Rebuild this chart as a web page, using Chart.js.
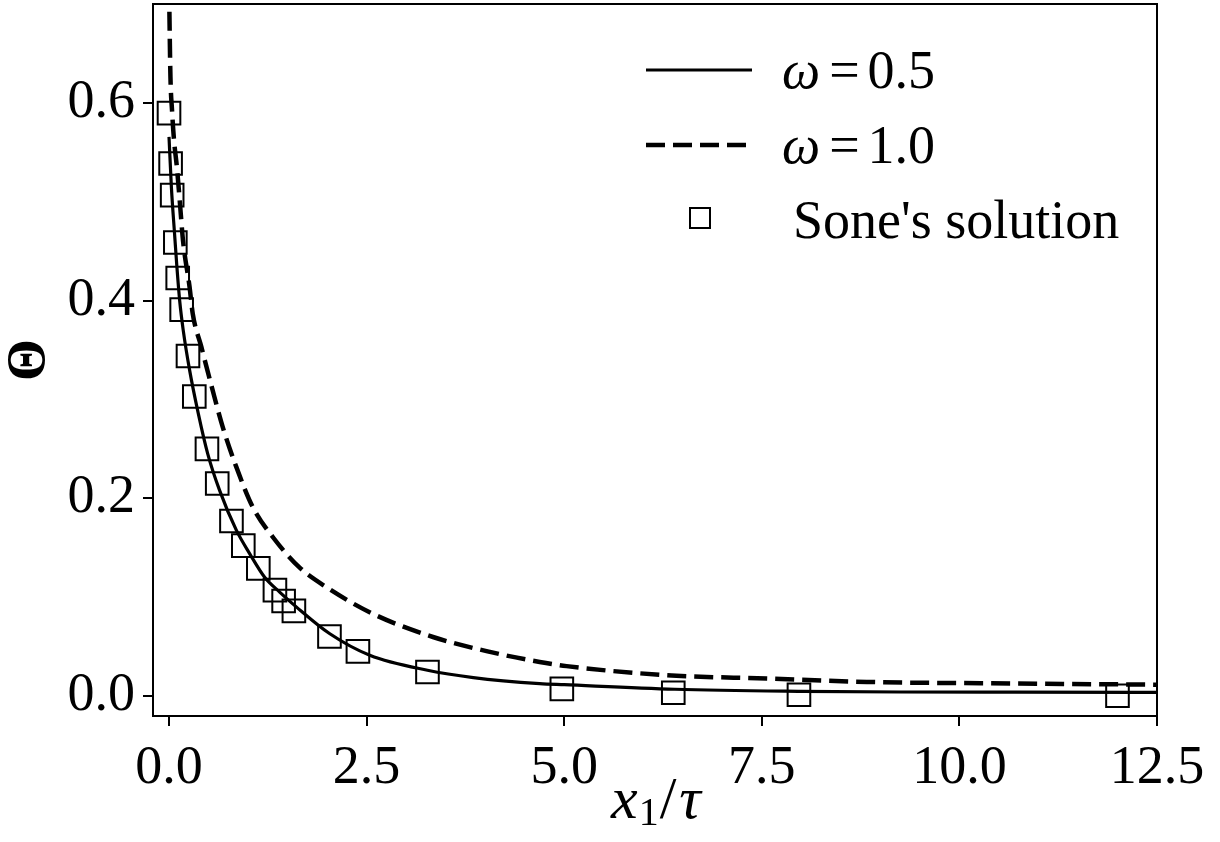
<!DOCTYPE html>
<html>
<head>
<meta charset="utf-8">
<script src="https://cdn.jsdelivr.net/npm/chart.js@4/dist/chart.umd.min.js"></script>
<style>
  html, body { margin: 0; padding: 0; background: #fff; }
  #wrap { width: 1220px; height: 842px; }
</style>
</head>
<body>
<div id="wrap"><canvas id="thetaChart" width="1220" height="842"></canvas></div>
<script>
// values
const soneX = [0.0, 0.02, 0.04, 0.08, 0.11, 0.16, 0.24, 0.32, 0.48, 0.61, 0.79, 0.94, 1.13, 1.34, 1.45, 1.58, 2.03, 2.39, 3.27, 4.97, 6.38, 7.97, 12.0];
const soneY = [0.590, 0.539, 0.507, 0.459, 0.423, 0.391, 0.344, 0.303, 0.250, 0.215, 0.177, 0.152, 0.129, 0.107, 0.096, 0.086, 0.060, 0.045, 0.024, 0.007, 0.003, 0.001, 0.000];

const w05X = [0.0, 0.03, 0.07, 0.10, 0.135, 0.18, 0.26, 0.37, 0.49, 0.64, 0.85, 1.02, 1.21, 1.40, 1.61, 2.03, 2.54, 3.27, 3.85, 4.69, 5.0, 6.4, 8.0, 9.25, 10.7, 12.5];
const w05Y = [0.566, 0.515, 0.468, 0.434, 0.400, 0.370, 0.330, 0.286, 0.245, 0.208, 0.168, 0.144, 0.120, 0.105, 0.090, 0.063, 0.041, 0.0258, 0.0184, 0.0123, 0.0112, 0.0066, 0.0045, 0.0038, 0.0036, 0.0035];

const w10X = [0.0, 0.018, 0.038, 0.063, 0.10, 0.135, 0.177, 0.26, 0.30, 0.41, 0.54, 0.68, 0.85, 1.06, 1.32, 1.65, 1.99, 2.58, 3.34, 4.06, 4.69, 5.03, 6.3, 7.56, 8.83, 10.73, 12.5];
const w10Y = [0.72, 0.627, 0.593, 0.563, 0.535, 0.502, 0.461, 0.414, 0.387, 0.353, 0.313, 0.272, 0.232, 0.191, 0.160, 0.130, 0.110, 0.083, 0.0595, 0.0444, 0.0342, 0.030, 0.0208, 0.0174, 0.014, 0.0124, 0.0112];

const xTicks = [0.0, 2.5, 5.0, 7.5, 10.0, 12.5];
const yTicks = [0.0, 0.2, 0.4, 0.6];

const serif = "'Liberation Serif', 'Times New Roman', serif";
const FS = 54;
const toPoints = (xs, ys) => xs.map((x, i) => ({ x: x, y: ys[i] }));

// draws pieces of text one after another (for the math-style labels)
function drawRuns(ctx, x, y, runs) {
    runs.forEach(r => {
        ctx.font = r.font;
        x += (r.dx || 0);
        ctx.fillText(r.text, x, y + (r.dy || 0));
        x += ctx.measureText(r.text).width;
    });
}

const decorPlugin = {
    id: 'decor',
    afterDraw(chart) {
        const { ctx, chartArea: a } = chart;
        const ds = chart.data.datasets;
        ctx.save();
        ctx.strokeStyle = '#000';
        ctx.fillStyle = '#000';
        ctx.lineWidth = 2;
        ctx.strokeRect(a.left, a.top, a.right - a.left, a.bottom - a.top);

        // legend
        ctx.textBaseline = 'alphabetic';
        ctx.textAlign = 'left';
        const rows = [
            { ds: ds[0], y: 70, base: 88 },
            { ds: ds[1], y: 145, base: 163 },
            { ds: ds[2], y: 218, base: 238 }
        ];
        rows.forEach(row => {
            const d = row.ds;
            ctx.save();
            if (d.showLine === false) {
                ctx.lineWidth = 2;
                ctx.strokeRect(690, row.y - 10, 20, 20);
            } else {
                ctx.lineWidth = d.borderWidth;
                ctx.setLineDash(d.borderDash || []);
                ctx.beginPath();
                ctx.moveTo(646, row.y);
                ctx.lineTo(752, row.y);
                ctx.stroke();
            }
            ctx.restore();
            if (d.label.includes('=')) {
                const parts = d.label.split('=').map(s => s.trim());
                drawRuns(ctx, 782, row.base, [
                    { text: parts[0], font: 'italic ' + FS + 'px ' + serif },
                    { text: '=', font: FS + 'px ' + serif, dx: 9 },
                    { text: parts[1], font: FS + 'px ' + serif, dx: 8 }
                ]);
            } else {
                ctx.font = FS + 'px ' + serif;
                ctx.fillText(d.label, 793, row.base);
            }
        });

        // x axis title: x_1 / tau
        const cx = (a.left + a.right) / 2;
        drawRuns(ctx, cx - 44, 818, [
            { text: 'x', font: 'italic 60px ' + serif },
            { text: '1', font: '40px ' + serif, dy: 7, dx: 1 },
            { text: '/', font: '60px ' + serif, dx: 1 },
            { text: 'τ', font: 'italic 60px ' + serif, dx: 3 }
        ]);
        ctx.restore();
    }
};

const ctx = document.getElementById('thetaChart').getContext('2d');
const thetaChart = new Chart(ctx, {
    type: 'line',
    data: {
        datasets: [{
            label: 'ω = 0.5',
            data: toPoints(w05X, w05Y),
            borderColor: '#000',
            borderWidth: 3.2,
            pointRadius: 0,
            fill: false,
            cubicInterpolationMode: 'monotone'
        }, {
            label: 'ω = 1.0',
            data: toPoints(w10X, w10Y),
            borderColor: '#000',
            borderWidth: 4.5,
            borderDash: [19, 8],
            pointRadius: 0,
            fill: false,
            cubicInterpolationMode: 'monotone'
        }, {
            label: "Sone's solution",
            data: toPoints(soneX, soneY),
            showLine: false,
            pointStyle: 'rect',
            pointRadius: 16,
            pointBorderWidth: 2,
            pointBorderColor: '#000',
            pointBackgroundColor: 'rgba(0,0,0,0)'
        }]
    },
    options: {
        responsive: false,
        animation: false,
        events: [],
        layout: { autoPadding: false, padding: { left: 0, top: 4, right: 63, bottom: 0 } },
        plugins: {
            legend: { display: false },
            tooltip: { enabled: false }
        },
        scales: {
            x: {
                type: 'linear',
                min: -0.2026,
                max: 12.5,
                afterBuildTicks: s => { s.ticks = xTicks.map(v => ({ value: v })); },
                afterFit: s => { s.height = 126; s.paddingLeft = 0; s.paddingRight = 0; },
                grid: { drawOnChartArea: false, color: '#000', lineWidth: 2, tickLength: 10 },
                border: { color: '#000', width: 2 },
                ticks: {
                    padding: 10,
                    color: '#000',
                    maxRotation: 0,
                    font: { family: serif, size: FS },
                    callback: v => v.toFixed(1)
                },
                title: { display: false }
            },
            y: {
                type: 'linear',
                min: -0.0205,
                max: 0.7005,
                afterBuildTicks: s => { s.ticks = yTicks.map(v => ({ value: v })); },
                afterFit: s => { s.width = 153; s.paddingTop = 0; s.paddingBottom = 0; },
                grid: { drawOnChartArea: false, color: '#000', lineWidth: 2, tickLength: 10 },
                border: { color: '#000', width: 2 },
                ticks: {
                    padding: 8,
                    color: '#000',
                    font: { family: serif, size: FS },
                    callback: v => v.toFixed(1)
                },
                title: {
                    display: true,
                    text: 'Θ',
                    color: '#000',
                    padding: 0,
                    font: { family: serif, size: FS, weight: 'bold', lineHeight: 1.1 }
                }
            }
        }
    },
    plugins: [decorPlugin]
});
</script>
</body>
</html>
